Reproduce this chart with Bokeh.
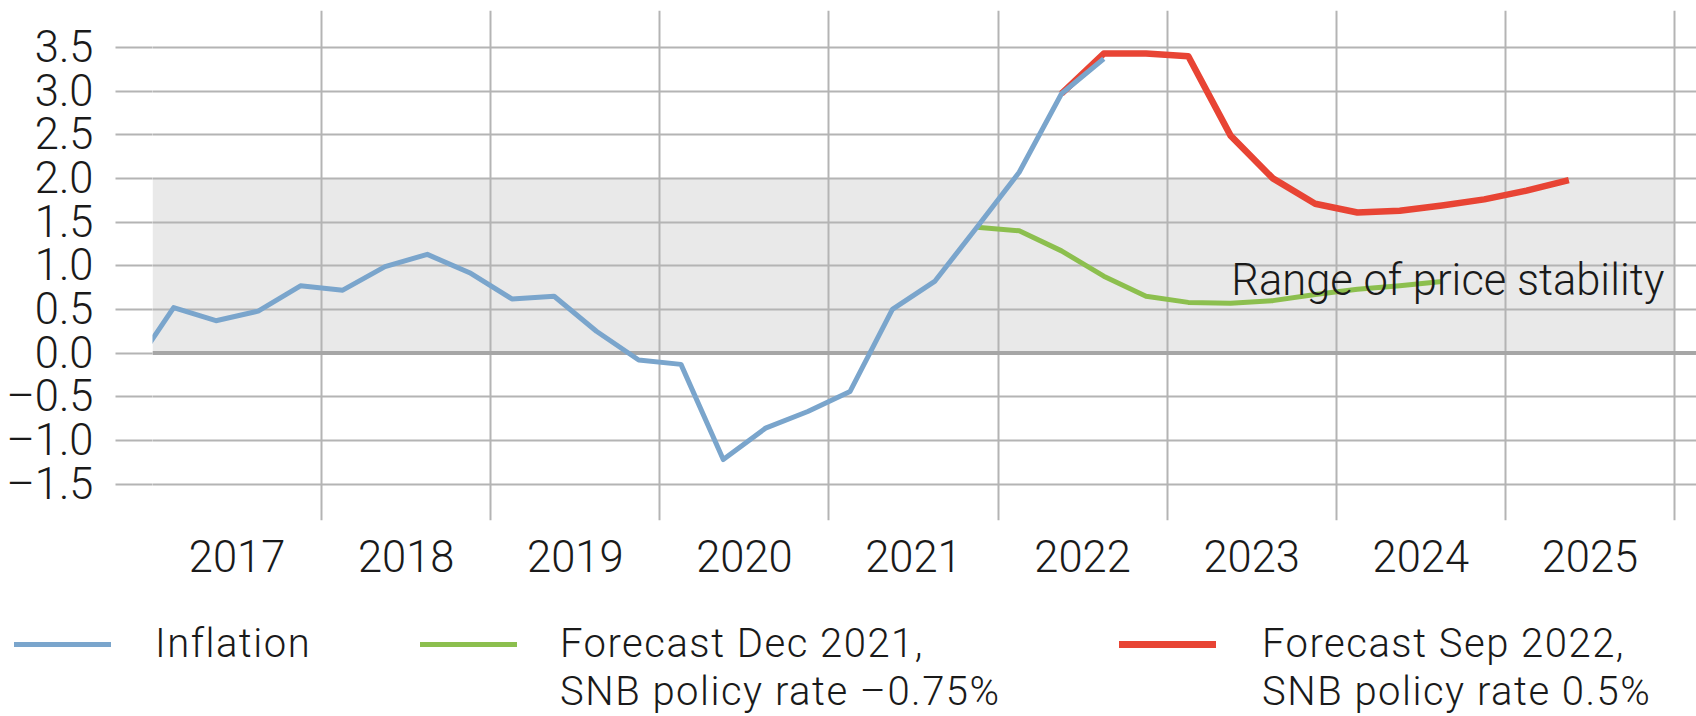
from bokeh.plotting import figure
from bokeh.layouts import column
from bokeh.models import (FixedTicker, BoxAnnotation, Span, Label, Div,
                          Range1d, CustomJSTickFormatter)
from bokeh.embed import file_html
from bokeh.resources import INLINE

# ---------------- data ----------------
years = [2017, 2018, 2019, 2020, 2021, 2022, 2023, 2024, 2025]

inflation_q = ["2016-Q4",
               "2017-Q1", "2017-Q2", "2017-Q3", "2017-Q4",
               "2018-Q1", "2018-Q2", "2018-Q3", "2018-Q4",
               "2019-Q1", "2019-Q2", "2019-Q3", "2019-Q4",
               "2020-Q1", "2020-Q2", "2020-Q3", "2020-Q4",
               "2021-Q1", "2021-Q2", "2021-Q3", "2021-Q4",
               "2022-Q1", "2022-Q2", "2022-Q3"]
inflation = [-0.20,
             0.52, 0.37, 0.48, 0.77,
             0.72, 0.99, 1.13, 0.92,
             0.62, 0.65, 0.25, -0.08,
             -0.13, -1.22, -0.86, -0.67,
             -0.44, 0.50, 0.82, 1.44,
             2.07, 2.97, 3.37]

dec2021_q = ["2021-Q4",
             "2022-Q1", "2022-Q2", "2022-Q3", "2022-Q4",
             "2023-Q1", "2023-Q2", "2023-Q3", "2023-Q4",
             "2024-Q1", "2024-Q2", "2024-Q3"]
dec2021 = [1.44,
           1.40, 1.17, 0.88, 0.65,
           0.58, 0.57, 0.60, 0.67,
           0.73, 0.77, 0.82]

sep2022_q = ["2022-Q2", "2022-Q3", "2022-Q4",
             "2023-Q1", "2023-Q2", "2023-Q3", "2023-Q4",
             "2024-Q1", "2024-Q2", "2024-Q3", "2024-Q4",
             "2025-Q1", "2025-Q2"]
sep2022 = [2.97, 3.43, 3.43,
           3.40, 2.49, 2.00, 1.71,
           1.61, 1.63, 1.69, 1.76,
           1.86, 1.98]

y_ticks = [-1.5, -1.0, -0.5, 0.0, 0.5, 1.0, 1.5, 2.0, 2.5, 3.0, 3.5]
price_stability = (0.0, 2.0)

labels = {
    "inflation": "Inflation",
    "dec1": "Forecast Dec 2021,",
    "dec2": "SNB policy rate \u20130.75%",
    "sep1": "Forecast Sep 2022,",
    "sep2": "SNB policy rate 0.5%",
    "band": "Range of price stability",
}


def qpos(q):
    y, qq = q.split("-Q")
    return int(y) + (int(qq) - 1) / 4 + 0.125


# ---------------- style ----------------
FONT = "Roboto Light, Roboto, sans-serif"
FS = "43.5px"
TXT = "#1a1a1a"
BLUE = "#7aa5cc"
GREEN = "#8cbf4e"
RED = "#e84434"
GRID = "#b4b4b4"
W = 1696

p = figure(width=W, height=590, output_backend="svg", toolbar_location=None,
           x_range=Range1d(2017.0, 2026.13), y_range=Range1d(-1.918, 3.923),
           min_border_left=152, min_border_right=0, min_border_top=10,
           min_border_bottom=70)
p.outline_line_color = None
p.background_fill_color = "white"
p.border_fill_color = "white"

# axes
p.yaxis.ticker = FixedTicker(ticks=y_ticks)
p.yaxis.formatter = CustomJSTickFormatter(code="return tick.toFixed(1).replace('-', '\u2013');")
p.yaxis.axis_line_color = None
p.yaxis.major_tick_in = 0
p.yaxis.major_tick_out = 37
p.yaxis.major_tick_line_color = GRID
p.yaxis.major_tick_line_width = 2
p.yaxis.minor_tick_line_color = None
p.yaxis.major_label_standoff = 22
p.yaxis.major_label_text_font = FONT
p.yaxis.major_label_text_font_size = FS
p.yaxis.major_label_text_color = TXT

p.xaxis.ticker = FixedTicker(ticks=[y + 0.5 for y in years])
p.xaxis.formatter = CustomJSTickFormatter(code="return String(Math.floor(tick));")
p.xaxis.axis_line_color = None
p.xaxis.major_tick_line_color = None
p.xaxis.minor_tick_line_color = None
p.xaxis.major_label_standoff = 13
p.xaxis.major_label_text_font = FONT
p.xaxis.major_label_text_font_size = FS
p.xaxis.major_label_text_color = TXT

# grids
p.xgrid.ticker = FixedTicker(ticks=list(range(years[0], years[-1] + 2)))
p.xgrid.grid_line_color = GRID
p.xgrid.grid_line_width = 2
p.ygrid.ticker = FixedTicker(ticks=y_ticks)
p.ygrid.grid_line_color = GRID
p.ygrid.grid_line_width = 2

# band + zero line
band = BoxAnnotation(bottom=price_stability[0], top=price_stability[1],
                     right=years[-1] + 1, fill_color="#e9e9e9", fill_alpha=1.0,
                     line_color=None, level="image")
p.add_layout(band)
p.add_layout(Span(location=0, dimension="width", line_color="#a6a6a6",
                  line_width=4, level="underlay"))

# lines
LW = {"blue": 5, "green": 5, "red": 6.5}
r_green = p.line([qpos(q) for q in dec2021_q], dec2021, line_color=GREEN,
                 line_width=LW["green"], line_join="round")
r_red = p.line([qpos(q) for q in sep2022_q], sep2022, line_color=RED,
               line_width=LW["red"], line_join="round")
r_blue = p.line([qpos(q) for q in inflation_q], inflation, line_color=BLUE,
                line_width=LW["blue"], line_join="round")

p.add_layout(Label(x=2025.94, y=0.83, text=labels["band"], text_align="right",
                   text_baseline="alphabetic", text_font=FONT, text_font_size=FS,
                   text_color=TXT))

# ---------------- legend strip (HTML) ----------------
LH = 36
TSTYLE = ("position:absolute;white-space:nowrap;font-family:Roboto,sans-serif;"
          "font-weight:300;font-size:40px;letter-spacing:1.5px;line-height:%dpx;color:%s;"
          % (LH, TXT))


def txt(t, left, center):
    return '<div style="%sleft:%dpx;top:%.1fpx;">%s</div>' % (TSTYLE, left, center - LH / 2, t)


def sample(color, lw, left, center):
    return ('<div style="position:absolute;left:%dpx;top:%.1fpx;width:97px;'
            'height:%.1fpx;background:%s;"></div>' % (left, center - lw / 2, lw, color))


ROW1, ROW2 = 53.5, 101.5
html = ('<div style="position:relative;width:%dpx;height:126px;">' % W
        + sample(BLUE, LW["blue"], 14, ROW1 + 1) + txt(labels["inflation"], 155, ROW1)
        + sample(GREEN, LW["green"], 420, ROW1 + 1) + txt(labels["dec1"], 560, ROW1)
        + txt(labels["dec2"], 560, ROW2)
        + sample(RED, LW["red"], 1119, ROW1 + 1) + txt(labels["sep1"], 1262, ROW1)
        + txt(labels["sep2"], 1262, ROW2)
        + '</div>')
legend = Div(text=html, width=W, height=126, styles={"margin": "0"})

layout = column(p, legend, spacing=0)
open("out.html", "w").write(file_html(layout, INLINE))
